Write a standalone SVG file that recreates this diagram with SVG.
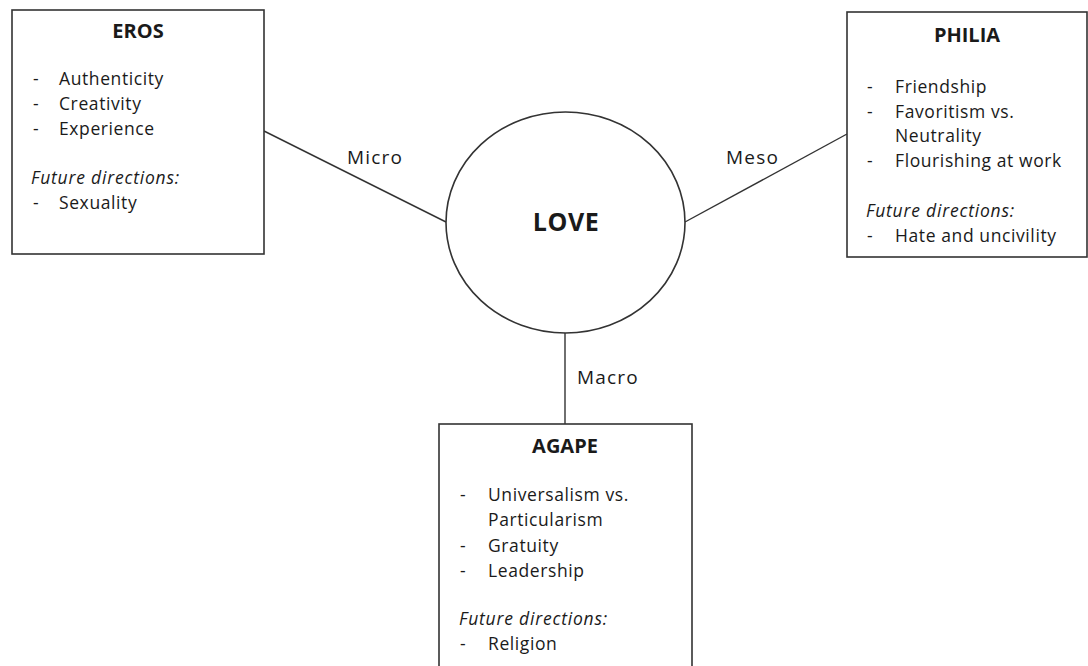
<svg xmlns="http://www.w3.org/2000/svg" width="1088" height="666" viewBox="0 0 1088 666">
<style>
.box{fill:#fff;stroke:#333;stroke-width:1.6}
.conn{stroke:#333;stroke-width:1.4;fill:none}
text{font-family:"Open Sans","Liberation Sans",sans-serif;fill:#1a1a1a}
.t{font-size:20px;font-weight:bold;text-anchor:middle}
.i{font-size:17.5px;letter-spacing:0.6px}
.f{font-size:17.5px;font-style:italic;letter-spacing:0.8px}
.l{font-size:19px;letter-spacing:1.2px}
</style>
<rect width="1088" height="666" fill="#fff"/>
<g id="connectors">
<line class="conn" x1="264" y1="131" x2="446" y2="222"/>
<line class="conn" x1="685" y1="222" x2="847" y2="134"/>
<line class="conn" x1="565" y1="333" x2="565" y2="424"/>
<text class="l" x="347" y="164">Micro</text>
<text class="l" x="726" y="164">Meso</text>
<text class="l" x="577" y="384">Macro</text>
</g>
<g id="love">
<ellipse class="box" cx="565.5" cy="222.5" rx="119.5" ry="110.5"/>
<text x="566" y="231" style="font-size:25px;font-weight:bold;text-anchor:middle;letter-spacing:0.5px">LOVE</text>
</g>
<g id="eros">
<rect class="box" x="12" y="10" width="252" height="244"/>
<text class="t" x="138" y="38">EROS</text>
<text class="i" x="33" y="85">-</text><text class="i" x="59" y="85">Authenticity</text>
<text class="i" x="33" y="110">-</text><text class="i" x="59" y="110">Creativity</text>
<text class="i" x="33" y="135">-</text><text class="i" x="59" y="135">Experience</text>
<text class="f" x="31" y="184">Future directions:</text>
<text class="i" x="33" y="209">-</text><text class="i" x="59" y="209">Sexuality</text>
</g>
<g id="philia">
<rect class="box" x="847" y="12" width="240" height="245"/>
<text class="t" x="967" y="42">PHILIA</text>
<text class="i" x="867" y="93">-</text><text class="i" x="895" y="93">Friendship</text>
<text class="i" x="867" y="118">-</text><text class="i" x="895" y="118">Favoritism vs.</text>
<text class="i" x="895" y="142">Neutrality</text>
<text class="i" x="867" y="167">-</text><text class="i" x="895" y="167">Flourishing at work</text>
<text class="f" x="866" y="217">Future directions:</text>
<text class="i" x="867" y="242">-</text><text class="i" x="895" y="242">Hate and uncivility</text>
</g>
<g id="agape">
<rect class="box" x="439" y="424" width="253" height="260"/>
<text class="t" x="565" y="453">AGAPE</text>
<text class="i" x="460" y="501">-</text><text class="i" x="488" y="501">Universalism vs.</text>
<text class="i" x="488" y="526">Particularism</text>
<text class="i" x="460" y="552">-</text><text class="i" x="488" y="552">Gratuity</text>
<text class="i" x="460" y="577">-</text><text class="i" x="488" y="577">Leadership</text>
<text class="f" x="459" y="625">Future directions:</text>
<text class="i" x="460" y="650">-</text><text class="i" x="488" y="650">Religion</text>
</g>
</svg>
